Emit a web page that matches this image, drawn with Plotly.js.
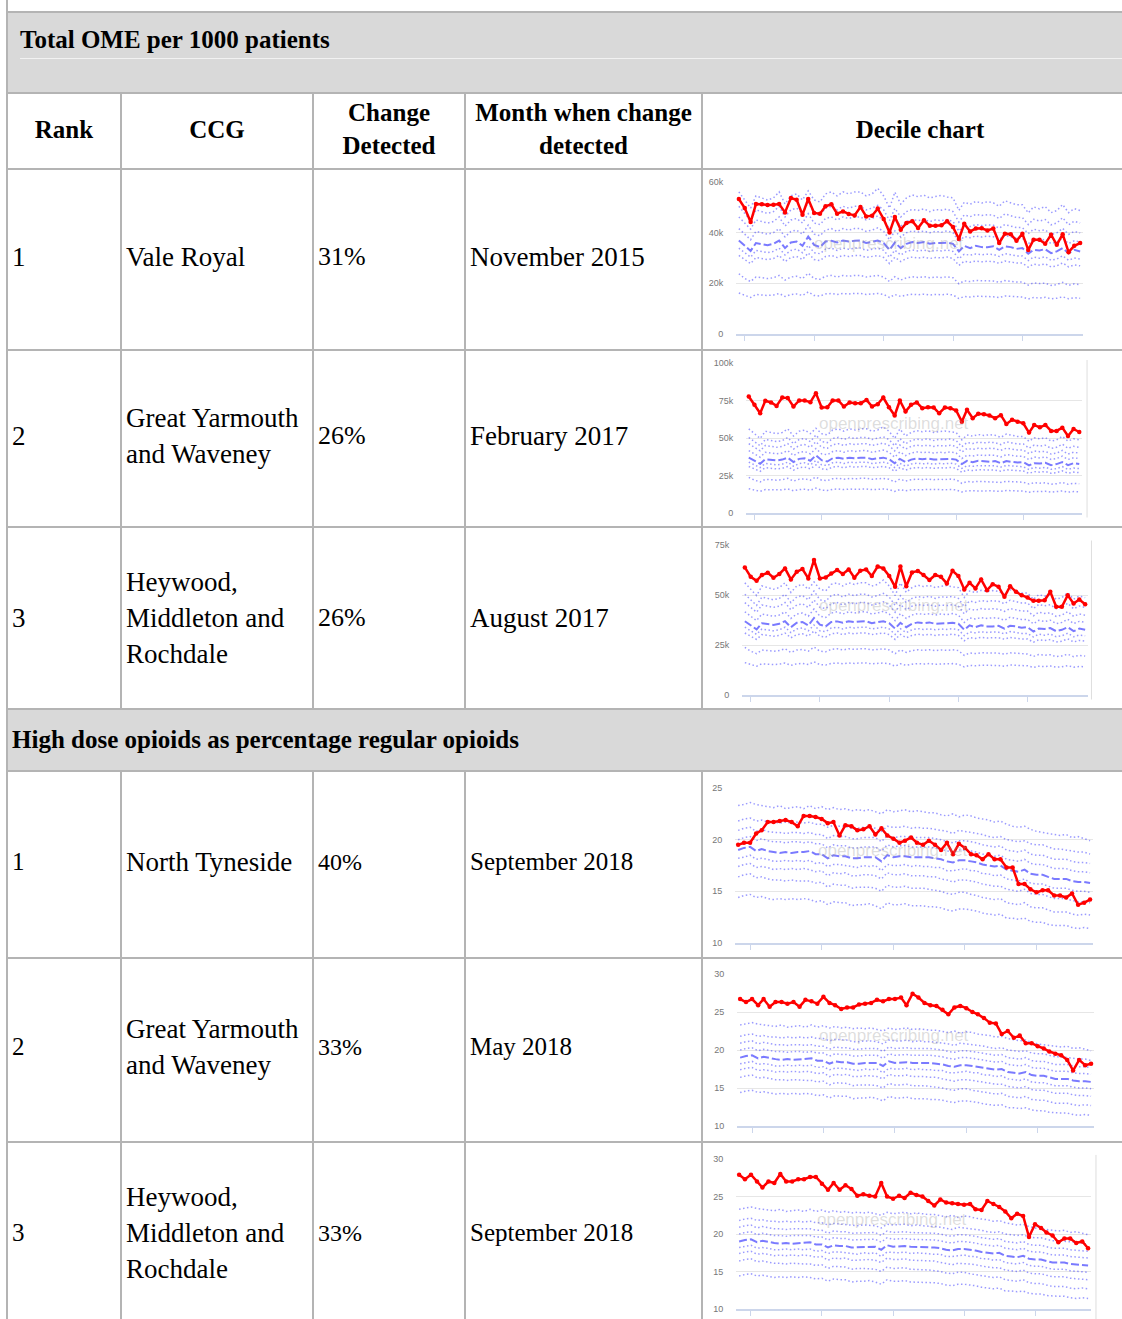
<!DOCTYPE html>
<html>
<head>
<meta charset="utf-8">
<script src="https://cdn.plot.ly/plotly-3.0.1.min.js"></script>
<style>
  html, body { margin:0; padding:0; }
  body { width:1122px; height:1319px; overflow:hidden; background:#fff; position:relative;
         font-family:"Liberation Serif","Times New Roman",serif; color:#000; }
  .hl { position:absolute; height:2px; background:#b4b4b4; }
  .vl { position:absolute; width:2px; background:#b4b4b4; }
  .cell { position:absolute; display:flex; align-items:center; box-sizing:border-box; padding:0 0 6px 4px; }
  .th { justify-content:center; text-align:center; font-weight:bold; font-size:25px; line-height:33px; padding:0 0 4px 0; }
  .sect { position:absolute; background:#d9d9d9; }
  .stitle { position:absolute; font-weight:bold; font-size:25px; line-height:27px; white-space:nowrap; }
  .chart { position:absolute; }
</style>
</head>
<body>
<script>
// ---------------- DATA ----------------
const sections = ["Total OME per 1000 patients", "High dose opioids as percentage regular opioids"];
const headers = ["Rank", "CCG", "Change<br>Detected", "Month when change<br>detected", "Decile chart"];
const ranks = ["1", "2", "3", "1", "2", "3"];
const ccgs = ["Vale Royal", "Great Yarmouth<br>and Waveney", "Heywood,<br>Middleton and<br>Rochdale",
              "North Tyneside", "Great Yarmouth<br>and Waveney", "Heywood,<br>Middleton and<br>Rochdale"];
const changes = ["31%", "26%", "26%", "40%", "33%", "33%"];
const detected = ["November 2015", "February 2017", "August 2017", "September 2018", "May 2018", "September 2018"];
const watermark = "openprescribing.net";

const months = ["2014-11","2014-12",
 "2015-01","2015-02","2015-03","2015-04","2015-05","2015-06","2015-07","2015-08","2015-09","2015-10","2015-11","2015-12",
 "2016-01","2016-02","2016-03","2016-04","2016-05","2016-06","2016-07","2016-08","2016-09","2016-10","2016-11","2016-12",
 "2017-01","2017-02","2017-03","2017-04","2017-05","2017-06","2017-07","2017-08","2017-09","2017-10","2017-11","2017-12",
 "2018-01","2018-02","2018-03","2018-04","2018-05","2018-06","2018-07","2018-08","2018-09","2018-10","2018-11","2018-12",
 "2019-01","2019-02","2019-03","2019-04","2019-05","2019-06","2019-07","2019-08","2019-09","2019-10","2019-11"];
const monthsOME = months.slice(1);      // Dec 2014 - Nov 2019
const monthsHD = months.slice(0, 60);   // Nov 2014 - Oct 2019

// Total OME per 1000 patients (thousands) - national deciles
const omeD90 = [56.1,52.9,49.7,54.5,53.7,52.9,53.7,56.1,51.3,54.5,55.3,52.9,56.5,52.9,52.1,55.3,56.1,54.5,56.1,55.3,56.1,56.1,54.5,55.3,57.5,54.5,49.7,56.0,51.3,53.7,54.9,54.2,54.8,53.7,54.3,54.7,54.1,53.7,48.8,52.0,51.2,52.3,51.7,52.2,51.8,50.4,52.6,51.8,51.0,51.0,47.8,50.2,49.4,50.3,47.9,48.7,51.1,47.9,49.5,48.7];
const omeD80 = [50.4,47.6,44.8,49.0,48.3,47.6,48.3,50.4,46.2,49.0,49.7,47.6,52.0,47.6,46.9,49.7,50.4,49.0,50.4,49.7,50.4,50.4,49.0,49.7,50.8,49.0,44.8,49.6,46.2,48.3,49.2,48.8,49.4,48.3,49.1,48.9,49.3,48.3,44.2,47.0,46.3,47.2,46.8,47.1,46.9,45.6,47.4,46.7,46.0,46.0,43.2,45.3,44.6,45.2,43.1,43.8,45.9,43.1,44.5,43.8];
const omeD70 = [46.2,43.8,41.4,45.0,44.4,43.8,44.4,46.2,42.6,45.0,45.6,43.8,47.5,43.8,43.2,45.6,46.2,45.0,46.2,45.6,46.2,46.2,45.0,45.6,46.6,45.0,41.4,45.3,42.6,44.4,45.2,44.8,45.1,44.4,45.0,44.7,45.2,44.4,40.6,43.0,42.4,43.2,42.8,43.1,42.9,41.8,43.2,42.6,42.0,42.0,39.6,41.4,40.8,41.1,39.3,39.9,41.7,39.3,40.5,39.9];
const omeD60 = [41.6,39.4,37.2,40.5,40.0,39.4,40.0,41.6,38.3,40.5,41.0,39.4,43.0,39.4,38.8,41.0,41.6,40.5,41.6,41.0,41.6,41.6,40.5,41.0,41.9,40.5,37.2,40.7,38.3,40.0,40.7,40.3,40.6,40.0,40.5,40.2,40.7,40.0,36.3,38.5,38.0,38.7,38.3,38.6,38.4,37.4,38.9,38.4,37.8,37.8,35.6,37.3,36.7,37.4,35.7,36.3,37.9,35.7,36.8,36.3];
const omeD50 = [36.9,34.8,32.8,35.9,35.5,35.0,35.6,36.9,33.9,36.1,36.5,34.8,38.5,35.2,34.3,36.5,36.8,36.1,36.9,36.5,36.8,36.9,35.9,36.5,36.9,35.9,33.2,36.1,33.9,35.6,36.3,35.9,36.3,35.6,35.9,35.9,36.1,35.6,32.6,34.8,33.9,34.8,34.3,34.2,34.6,33.2,34.6,34.3,33.6,33.9,31.7,33.2,33.0,33.5,31.9,32.6,33.9,31.9,33.2,32.6];
const omeD40 = [33.9,32.1,30.3,33.0,32.6,32.1,32.6,33.9,31.2,33.0,33.5,32.1,35.0,32.1,31.7,33.5,33.9,33.0,33.9,33.5,33.9,33.9,33.0,33.5,33.9,33.0,30.3,33.1,31.2,32.6,33.2,32.8,33.1,32.6,33.0,32.8,33.2,32.6,29.7,31.5,31.1,31.6,31.3,31.5,31.4,30.6,31.7,31.3,30.8,30.8,29.0,30.4,29.9,30.5,29.1,29.6,30.9,29.1,30.0,29.6];
const omeD30 = [31.0,29.4,27.8,30.2,29.8,29.4,29.8,31.0,28.6,30.2,30.6,29.4,32.0,29.4,29.0,30.6,31.0,30.2,31.0,30.6,31.0,31.0,30.2,30.6,31.0,30.2,27.8,30.3,28.6,29.8,30.4,30.0,30.3,29.8,30.2,30.0,30.4,29.8,27.1,28.7,28.3,28.8,28.5,28.7,28.6,27.9,28.8,28.4,28.0,28.0,26.4,27.6,27.2,27.7,26.5,26.9,28.1,26.5,27.3,26.9];
const omeD20 = [23.8,21.9,20.7,22.5,22.2,21.9,22.2,23.1,21.3,22.5,22.8,21.9,24.0,21.9,21.6,22.8,23.1,22.5,23.1,22.8,23.1,23.1,22.5,22.8,23.1,22.5,20.7,22.6,21.3,22.2,22.6,22.3,22.6,22.2,22.5,22.3,22.6,22.2,19.8,21.0,20.7,21.1,20.9,21.0,20.9,20.4,21.1,20.8,20.5,20.5,19.3,20.2,19.9,20.1,19.2,19.5,20.4,19.2,19.8,19.5];
const omeD10 = [16.2,15.2,14.4,15.6,15.4,15.2,15.4,16.0,14.8,15.6,15.8,15.2,16.6,15.2,15.0,15.8,16.0,15.6,16.0,15.8,16.0,16.0,15.6,15.8,16.0,15.6,14.4,15.6,14.8,15.4,15.7,15.5,15.7,15.4,15.6,15.5,15.7,15.4,14.0,14.8,14.6,14.9,14.7,14.8,14.7,14.4,15.0,14.8,14.6,14.6,13.8,14.4,14.2,14.5,13.9,14.1,14.7,13.9,14.3,14.1];

// CCG series, Total OME (thousands)
const omeValeRoyal = [53.3,49.7,44.2,51.3,51.2,50.9,51.0,51.3,48.0,53.7,53.0,47.1,53.3,47.8,47.5,50.4,51.2,47.5,48.4,47.4,46.8,50.1,46.4,46.7,49.5,45.4,40.1,46.2,41.2,43.8,44.5,41.8,44.9,42.7,42.7,42.9,44.5,42.2,37.5,43.5,40.5,41.6,41.7,40.9,41.6,35.9,39.6,39.4,36.8,39.6,33.2,37.2,37.2,35.6,39.2,35.2,39.4,32.3,34.8,35.9];
const omeGreatYarmouth = [77.7,72.1,66.5,74.8,73.7,71.4,77.0,76.6,71.0,75.0,75.0,73.9,79.9,70.3,70.5,75.0,75.0,71.0,73.7,73.2,73.2,75.4,71.0,72.5,77.0,70.5,65.0,75.0,67.6,72.1,73.7,69.9,70.5,70.3,66.5,70.3,69.9,68.3,60.9,68.8,63.2,66.1,65.8,65.0,63.2,65.2,59.4,62.1,60.9,59.8,53.6,58.7,57.1,58.7,54.7,54.7,56.9,51.3,56.0,54.0];
const omeHeywood = [63.8,59.1,57.1,60.0,61.1,58.6,60.5,63.3,57.8,61.6,63.0,58.3,67.5,58.3,58.8,60.8,62.5,60.5,62.8,58.6,62.1,62.8,59.5,64.2,63.3,59.5,54.1,64.2,54.4,61.3,62.0,60.0,57.5,60.0,59.1,55.8,62.1,59.5,52.8,56.1,53.3,57.8,52.4,55.4,54.1,49.1,54.4,51.6,49.9,48.7,47.1,47.1,47.4,51.6,44.1,44.1,49.9,45.7,47.7,45.4];

// High dose opioids as % regular opioids - national deciles
const hdD90 = [23.3,23.4,23.6,23.4,23.3,23.2,23.1,23.3,23.0,23.1,23.2,23.0,23.3,23.0,23.2,22.9,23.1,22.9,23.0,22.8,22.9,22.8,22.9,22.7,22.5,22.9,22.7,22.8,22.9,22.7,22.8,22.7,22.6,22.6,22.4,22.3,22.5,22.2,22.4,22.3,22.1,22.0,21.9,21.7,21.8,21.5,21.3,21.2,21.3,21.0,20.8,20.7,20.6,20.5,20.4,20.5,20.2,20.3,20.1,19.9];
const hdD80 = [21.8,22.0,22.1,21.8,21.9,21.7,21.7,21.6,21.7,21.6,21.7,21.6,21.7,21.5,21.5,21.2,21.4,21.3,21.3,21.1,21.1,21.2,21.2,21.1,20.8,21.3,21.2,21.2,21.3,21.1,21.2,21.1,21.1,21.0,20.9,20.8,20.6,20.9,20.8,20.7,20.6,20.5,20.3,20.2,20.3,20.0,19.9,19.8,19.9,19.6,19.5,19.5,19.3,19.1,19.1,19.0,18.9,18.8,18.8,18.6];
const hdD70 = [20.9,21.1,21.2,20.8,21.0,20.8,20.7,20.7,20.6,20.7,20.7,20.6,20.7,20.5,20.5,20.1,20.4,20.3,20.3,20.1,20.1,20.2,20.2,20.2,19.8,20.4,20.2,20.3,20.3,20.2,20.2,20.2,20.2,20.1,20.0,19.8,19.7,19.9,19.9,19.8,19.7,19.5,19.4,19.3,19.4,19.0,18.9,18.8,19.0,18.6,18.5,18.5,18.3,18.1,18.1,18.1,17.9,17.8,17.8,17.7];
const hdD60 = [20.0,20.2,20.3,19.9,20.1,19.9,19.8,19.8,19.7,19.8,19.8,19.7,19.8,19.6,19.6,19.2,19.5,19.4,19.4,19.2,19.2,19.3,19.3,19.3,18.9,19.5,19.3,19.4,19.4,19.3,19.3,19.3,19.3,19.2,19.1,18.9,18.8,19.0,19.0,18.9,18.8,18.6,18.5,18.4,18.5,18.1,18.0,17.9,18.1,17.7,17.6,17.6,17.4,17.2,17.2,17.2,17.0,16.9,16.9,16.8];
const hdD50 = [19.0,19.2,19.3,18.9,19.1,18.9,18.8,18.7,18.8,18.7,18.8,18.8,18.9,18.6,18.6,18.2,18.5,18.4,18.4,18.2,18.2,18.3,18.3,18.3,17.9,18.5,18.3,18.4,18.4,18.3,18.3,18.3,18.3,18.2,18.1,17.9,17.8,18.0,18.0,17.9,17.8,17.6,17.5,17.4,17.5,17.1,17.0,16.9,17.1,16.7,16.6,16.6,16.4,16.2,16.2,16.2,16.0,15.9,15.9,15.8];
const hdD40 = [18.2,18.3,18.5,18.1,18.2,18.1,17.9,17.9,18.0,17.9,18.0,17.9,18.0,17.7,17.8,17.4,17.6,17.6,17.5,17.4,17.3,17.5,17.4,17.5,17.0,17.6,17.5,17.5,17.6,17.4,17.5,17.4,17.4,17.3,17.3,17.0,17.0,17.1,17.2,17.0,17.0,16.7,16.7,16.5,16.6,16.2,16.1,16.0,16.2,15.8,15.7,15.7,15.5,15.3,15.3,15.3,15.1,15.0,15.0,14.9];
const hdD30 = [17.4,17.6,17.7,17.3,17.4,17.3,17.1,17.2,17.1,17.2,17.1,17.2,17.1,16.9,17.0,16.5,16.8,16.7,16.8,16.5,16.5,16.6,16.6,16.5,16.2,16.8,16.6,16.6,16.7,16.5,16.5,16.5,16.4,16.4,16.2,16.1,15.9,16.1,16.1,16.0,15.9,15.7,15.6,15.5,15.5,15.2,15.1,15.0,15.2,14.8,14.7,14.7,14.5,14.3,14.3,14.3,14.1,14.0,14.0,13.9];
const hdD20 = [16.4,16.6,16.7,16.3,16.4,16.2,16.1,16.1,16.0,16.1,16.0,16.0,16.0,15.8,15.9,15.4,15.7,15.6,15.6,15.3,15.4,15.4,15.4,15.3,15.0,15.6,15.4,15.4,15.5,15.3,15.3,15.3,15.2,15.1,15.0,14.8,14.7,14.9,14.9,14.7,14.6,14.4,14.3,14.2,14.3,13.9,13.8,13.7,13.9,13.5,13.4,13.4,13.2,13.0,13.0,13.0,12.8,12.7,12.8,12.7];
const hdD10 = [14.4,14.6,14.7,14.4,14.5,14.3,14.2,14.3,14.2,14.3,14.2,14.3,14.2,14.0,14.1,13.7,14.0,13.9,13.9,13.6,13.7,13.7,13.8,13.6,13.3,13.9,13.7,13.7,13.8,13.6,13.6,13.6,13.5,13.5,13.4,13.2,13.1,13.3,13.3,13.2,13.1,12.9,12.8,12.7,12.8,12.4,12.4,12.3,12.4,12.1,12.0,12.0,11.8,11.7,11.7,11.7,11.5,11.4,11.5,11.4];

// CCG series, high dose %
const hdNorthTyneside = [19.5,19.7,19.7,20.6,20.9,21.7,21.7,21.8,21.9,21.7,21.3,22.3,22.3,22.2,22.0,21.6,21.7,20.4,21.4,21.3,20.9,21.0,21.3,20.5,21.1,20.4,20.1,19.7,19.9,20.2,19.7,19.5,19.9,19.5,19.0,19.7,18.6,19.6,19.2,18.6,18.5,18.1,18.6,18.1,18.1,17.3,17.3,15.7,15.7,15.2,14.9,15.1,15.1,14.6,14.6,14.4,14.8,13.7,13.9,14.2];
const hdGreatYarmouth = [26.7,26.3,26.7,25.9,26.7,25.7,26.3,26.3,26.1,26.3,25.7,26.6,26.4,26.1,27.0,26.2,25.9,25.4,25.6,25.6,26.0,26.1,26.2,26.6,26.4,26.7,26.7,26.9,25.9,27.4,26.9,26.2,25.9,25.8,25.3,24.7,25.6,25.8,25.5,25.0,24.7,24.2,23.6,23.5,22.1,22.5,21.6,21.9,20.9,20.9,20.5,20.2,19.8,19.5,19.3,18.7,17.3,18.7,18.0,18.2];
const hdHeywood = [27.9,27.3,27.9,27.0,26.2,27.0,26.8,28.0,27.0,27.0,27.3,27.3,27.6,27.6,26.7,25.9,26.8,25.9,26.5,26.0,25.1,25.3,25.1,25.0,26.8,25.0,24.7,25.1,24.8,25.5,25.2,25.0,24.4,23.8,24.6,24.2,24.1,24.0,23.9,24.0,23.3,23.2,24.4,24.0,23.6,23.0,22.1,22.7,22.4,19.6,21.3,20.8,20.2,19.8,18.9,19.4,19.4,18.8,19.0,18.1];

// tick labels
const omeTicks60 = [0, 20, 40, 60],        omeTickText60 = ["0", "20k", "40k", "60k"];
const omeTicks100 = [0, 25, 50, 75, 100],  omeTickText100 = ["0", "25k", "50k", "75k", "100k"];
const omeTicks75 = [0, 25, 50, 75],        omeTickText75 = ["0", "25k", "50k", "75k"];
const hdTicks25 = [10, 15, 20, 25],        hdTickText25 = ["10", "15", "20", "25"];
const hdTicks30 = [10, 15, 20, 25, 30],    hdTickText30 = ["10", "15", "20", "25", "30"];

const omeDeciles = [omeD10, omeD20, omeD30, omeD40, omeD50, omeD60, omeD70, omeD80, omeD90];
const hdDeciles = [hdD10, hdD20, hdD30, hdD40, hdD50, hdD60, hdD70, hdD80, hdD90];

// sanity check of array lengths
(function(){
  const all = {omeD10,omeD20,omeD30,omeD40,omeD50,omeD60,omeD70,omeD80,omeD90,omeValeRoyal,omeGreatYarmouth,omeHeywood,
               hdD10,hdD20,hdD30,hdD40,hdD50,hdD60,hdD70,hdD80,hdD90,hdNorthTyneside,hdGreatYarmouth,hdHeywood};
  const bad = Object.keys(all).filter(k => all[k].length !== 60).map(k => k + ':' + all[k].length);
  if (bad.length) console.error('Length mismatch ' + bad.join(', '));
})();

// ---------------- TABLE ----------------
function box(cls, x0, y0, w, h, html) {
  const d = document.createElement('div');
  d.className = cls;
  d.style.left = x0 + 'px'; d.style.top = y0 + 'px';
  if (w != null) d.style.width = w + 'px';
  if (h != null) d.style.height = h + 'px';
  if (html != null) d.innerHTML = html;
  document.body.appendChild(d);
  return d;
}

// section backgrounds
box('sect', 8, 13, 1114, 79);
box('sect', 8, 710, 1114, 60);
const hr = box('sect', 20, 58, 1102, 1); hr.style.background = '#f2f2f2';
box('stitle', 20, 26, null, null, sections[0]);
box('stitle', 12, 726, null, null, sections[1]);

const colL = [8, 122, 314, 466, 703];
const colR = [120, 312, 464, 701, 1137];
// text boxes per row (the last row runs past the bottom edge of the page)
const rowT = [170, 351, 530, 772, 959, 1143];
const rowB = [349, 526, 712, 957, 1141, 1328];

headers.forEach((h, i) => box('cell th', colL[i], 94, colR[i] - colL[i], 74, h));

for (let r = 0; r < 6; r++) {
  const top = r < 3;
  const cols = [ranks[r], ccgs[r], changes[r], detected[r]];
  const sizes = top ? [27, 27, 26, 27] : [25, 27, 24, 25];
  cols.forEach((t, c) => {
    const d = box('cell', colL[c], rowT[r], colR[c] - colL[c], rowB[r] - rowT[r], '<div>' + t + '</div>');
    d.style.fontSize = sizes[c] + 'px';
    d.style.lineHeight = '36px';
  });
}

// grid lines
[11, 92, 168, 349, 526, 708, 770, 957, 1141].forEach(y => box('hl', 6, y, 1116, null));
box('vl', 6, 0, null, 1319);
[120, 312, 464, 701].forEach(x => { box('vl', x, 92, null, 618); box('vl', x, 770, null, 549); });

// ---------------- CHARTS ----------------
const charts = [
  {x: monthsOME, range: ['2014-11-16', '2019-11-16'], dec: omeDeciles, y: omeValeRoyal, yr: [0, 60], tv: omeTicks60, tt: omeTickText60,
   top: 171, h: 178, m: {l: 33, r: 39, t: 11, b: 15}, showX: false, edge: null},
  {x: monthsOME, range: ['2014-11-16', '2019-11-16'], dec: omeDeciles, y: omeGreatYarmouth, yr: [0, 100], tv: omeTicks100, tt: omeTickText100,
   top: 352, h: 174, m: {l: 43, r: 40, t: 11, b: 13}, showX: false, edge: {x: 1.015, y0: -0.03, y1: 1.02}},
  {x: monthsOME, range: ['2014-11-16', '2019-11-16'], dec: omeDeciles, y: omeHeywood, yr: [0, 75], tv: omeTicks75, tt: omeTickText75,
   top: 529, h: 179, m: {l: 39, r: 34, t: 16, b: 13}, showX: false, edge: {x: 1.01, y0: -0.03, y1: 1.03}},
  {x: monthsHD, range: ['2014-10-16', '2019-10-16'], dec: hdDeciles, y: hdNorthTyneside, yr: [10, 25], tv: hdTicks25, tt: hdTickText25,
   top: 773, h: 184, m: {l: 32, r: 29, t: 15, b: 14}, showX: false, edge: null},
  {x: monthsHD, range: ['2014-10-16', '2019-10-16'], dec: hdDeciles, y: hdGreatYarmouth, yr: [10, 30], tv: hdTicks30, tt: hdTickText30,
   top: 960, h: 181, m: {l: 34, r: 28, t: 14, b: 15}, showX: false, edge: null},
  {x: monthsHD, range: ['2014-10-16', '2019-10-16'], dec: hdDeciles, y: hdHeywood, yr: [10, 30], tv: hdTicks30, tt: hdTickText30,
   top: 1144, h: 175, m: {l: 33, r: 31, t: 15, b: 10}, showX: true, edge: {x: 1.014, y0: -0.1, y1: 1.027}}
];

charts.forEach((c, idx) => {
  const div = box('chart', 703, c.top, 419, c.h);
  div.id = 'chart' + idx;
  const traces = c.dec.map((arr, k) => ({
    x: c.x, y: arr, type: 'scatter', mode: 'lines', hoverinfo: 'skip',
    line: k === 4 ? {color: 'rgba(40,40,255,0.62)', width: 2, dash: '8px,3px'}
                  : {color: 'rgba(30,30,255,0.45)', width: 1.5, dash: '1.5px,2.5px'}
  }));
  traces.push({
    x: c.x, y: c.y, type: 'scatter', mode: 'lines+markers', hoverinfo: 'skip',
    line: {color: '#ff0000', width: 2.5}, marker: {color: '#ff0000', size: 4.5}
  });
  const shapes = [];
  if (c.edge) shapes.push({type: 'line', xref: 'paper', yref: 'paper', x0: c.edge.x, x1: c.edge.x, y0: c.edge.y0, y1: c.edge.y1,
                           line: {color: '#dedede', width: 1}});
  const layout = {
    width: 419, height: c.h, margin: Object.assign({pad: 0}, c.m),
    paper_bgcolor: 'rgba(0,0,0,0)', plot_bgcolor: 'rgba(0,0,0,0)', showlegend: false,
    font: {family: 'Liberation Sans, Arial, sans-serif', size: 9, color: '#777'},
    xaxis: {type: 'date', range: c.range, showgrid: false, zeroline: false, showline: true, linecolor: '#ccd6eb', linewidth: 1.5,
            ticks: 'outside', ticklen: 5, tickwidth: 1, tickcolor: '#ccd6eb', dtick: 'M12', tick0: '2015-01-01',
            showticklabels: c.showX, tickformat: '%Y', tickfont: {size: 9, color: '#777'}},
    yaxis: {range: c.yr, tickmode: 'array', tickvals: c.tv, ticktext: c.tt, showgrid: true, gridcolor: '#e6e6e6', gridwidth: 1,
            zeroline: false, showline: false, ticks: 'outside', ticklen: 10, tickcolor: 'rgba(0,0,0,0)',
            tickfont: {size: 9, color: '#777'}},
    annotations: [{text: watermark, xref: 'paper', yref: 'paper', x: 0.44, y: 0.595, showarrow: false,
                   font: {size: 17, color: 'rgba(150,150,150,0.32)'}}],
    shapes: shapes
  };
  Plotly.newPlot(div, traces, layout, {staticPlot: true, displayModeBar: false});
});
</script>
</body>
</html>
